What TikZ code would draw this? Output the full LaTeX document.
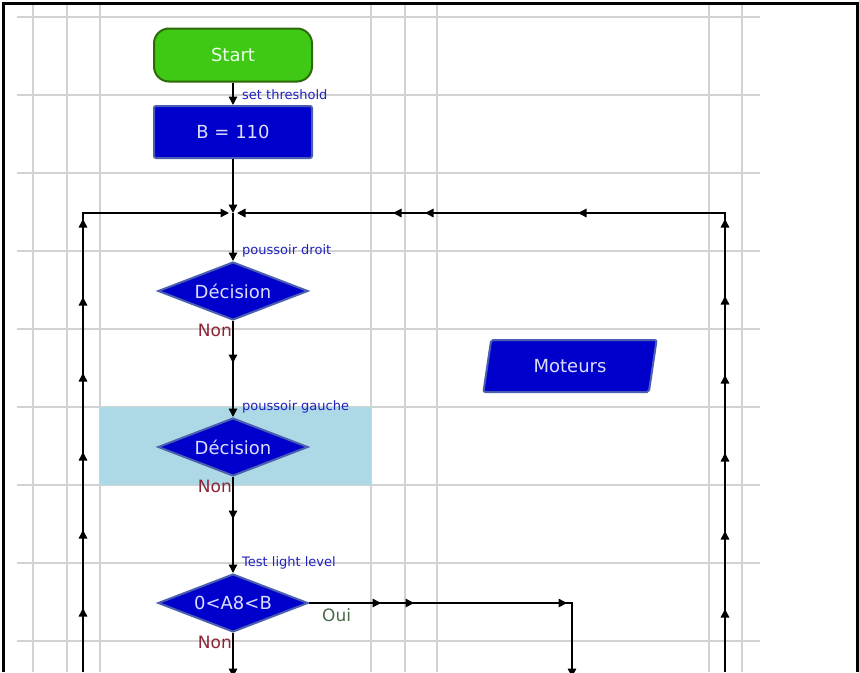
\documentclass[tikz,border=0pt]{standalone}
\usepackage{fontspec}
\setmainfont{DejaVu Sans}
\usetikzlibrary{shapes.geometric,arrows.meta,decorations.markings}
\definecolor{startgreen}{HTML}{3FC814}
\definecolor{startedge}{HTML}{2C6A0A}
\definecolor{boxblue}{HTML}{0000CC}
\definecolor{boxedge}{HTML}{4B5FB0}
\definecolor{boxtext}{HTML}{DCDCFF}
\definecolor{labelblue}{HTML}{2020C0}
\definecolor{nonred}{HTML}{8B2535}
\definecolor{ouigreen}{HTML}{4A6A4A}
\definecolor{gridgray}{HTML}{D2D2D2}
\definecolor{selblue}{HTML}{ADD8E6}

\tikzset{
 gridline/.style={gridgray, line width=1.2pt},
 nodefont/.style={font=\fontsize{18}{21}\selectfont},
 terminal/.style={rectangle, rounded corners=15pt, minimum width=158pt, minimum height=53pt, fill=startgreen, draw=startedge, line width=2pt, text=green!8!white, nodefont},
 process/.style={rectangle, rounded corners=2pt, minimum width=158pt, minimum height=52pt, fill=boxblue, draw=boxedge, line width=2pt, text=boxtext, nodefont},
 decision/.style={diamond, aspect=2.6, inner sep=0pt, minimum width=150pt, minimum height=58pt, fill=boxblue, draw=boxedge, line width=2pt, text=boxtext, nodefont},
 output/.style={trapezium, trapezium left angle=79, trapezium right angle=101, trapezium stretches=true, minimum width=174pt, minimum height=52pt, rounded corners=2pt, fill=boxblue, draw=boxedge, line width=2pt, text=boxtext, nodefont},
 edgelabel/.style={text=labelblue, inner sep=2pt, font=\fontsize{13}{15}\selectfont},
 nolabel/.style={text=nonred, inner sep=1pt, font=\fontsize{17}{19}\selectfont},
 ouilabel/.style={text=ouigreen, inner sep=1pt, font=\fontsize{17}{19}\selectfont},
 flow/.style={draw=black, line width=1.5pt, -{Triangle[length=8.5pt,width=8.5pt]}},
 tipat/.style={postaction={decorate, decoration={markings, mark=at position #1 with {\arrow{Triangle[length=8.5pt,width=8.5pt]}}}}}
}

\begin{document}
\begin{tikzpicture}[x=1pt,y=-1pt]
 \useasboundingbox (0,0) rectangle (859,672);
 \fill[white] (0,0) rectangle (859,672);

 \foreach \gy in {17,95,...,641} \draw[gridline] (17,\gy) -- (760,\gy);
 \foreach \gx in {33,67,100,371,405,437,709,742} \draw[gridline] (\gx,5) -- (\gx,672);
 \fill[selblue] (100,407) rectangle (371,485);
 \draw[line width=3pt] (3.5,672) -- (3.5,3.5) -- (857.5,3.5) -- (857.5,672);

 \node[terminal] (start) at (233,55) {Start};
 \node[process] (thresh) at (233,132) {B = 110};
 \node[decision] (droit) at (233,291) {Décision};
 \node[decision] (gauche) at (233,447) {Décision};
 \node[decision] (light) at (233,603) {0<A8<B};
 \node[output] (moteurs) at (570,366) {Moteurs};

 \coordinate (join) at (233,213);
 \coordinate (lbot) at (83,672);
 \coordinate (rbot) at (725,672);
 \coordinate (cbot) at (233,677);
 \coordinate (ouiturn) at (572,603);
 \coordinate (ouibot) at (572,677);

 \draw[flow] (start) -- (thresh);
 \draw[flow] (thresh) -- (join);
 \draw[flow] (join) -- (droit);
 \draw[flow, tipat=42pt] (droit) -- (gauche);
 \draw[flow, tipat=42pt] (gauche) -- (light);
 \draw[flow] (light) -- (cbot);
 \draw[flow, tipat/.list={72pt,105pt,258pt}] (light.east) -- (ouiturn) -- (ouibot);
 \draw[flow, shorten >=4pt, tipat/.list={64pt,142pt,220pt,299pt,375pt,453pt}] (lbot) |- (join);
 \draw[flow, shorten >=4pt, tipat/.list={63pt,141pt,219pt,297pt,376pt,453pt,606pt,759pt,791pt}] (rbot) |- (join);

 \node[edgelabel, anchor=west] (lthresh) at (240,95) {set threshold};
 \node[edgelabel, anchor=west] (ldroit) at (240,251) {poussoir droit};
 \node[edgelabel, anchor=west] (lgauche) at (240,407) {poussoir gauche};
 \node[edgelabel, anchor=west] (llight) at (240,563) {Test light level};
 \node[nolabel, anchor=north east, yshift=-2pt] (non1) at (droit.south) {Non};
 \node[nolabel, anchor=north east, yshift=-2pt] (non2) at (gauche.south) {Non};
 \node[nolabel, anchor=north east, yshift=-2pt] (non3) at (light.south) {Non};
 \node[ouilabel, anchor=north west, xshift=12pt, yshift=-4pt] (oui) at (light.east) {Oui};
\end{tikzpicture}
\end{document}
